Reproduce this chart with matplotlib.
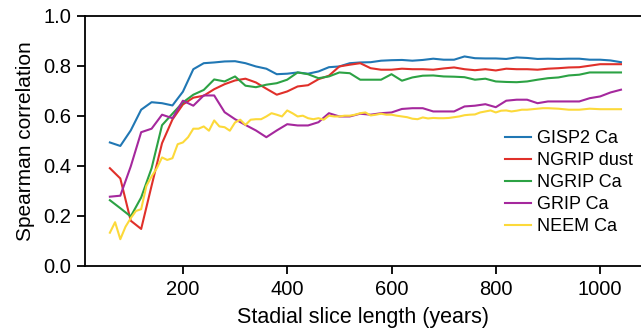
import numpy as np
import matplotlib
matplotlib.use("Agg")
import matplotlib.pyplot as plt

plt.rcParams['font.family'] = ['Liberation Sans', 'DejaVu Sans']

# slice lengths (years)
years = list(range(60, 1041, 20))
years_neem = list(range(60, 1041, 10))

gisp2_ca = [0.493, 0.479, 0.541, 0.624, 0.654, 0.650, 0.641, 0.696, 0.786, 0.810,
            0.813, 0.817, 0.818, 0.810, 0.797, 0.788, 0.766, 0.768, 0.773, 0.768,
            0.777, 0.794, 0.797, 0.810, 0.813, 0.814, 0.820, 0.822, 0.823, 0.820,
            0.823, 0.828, 0.824, 0.824, 0.837, 0.830, 0.829, 0.829, 0.827, 0.833,
            0.831, 0.827, 0.828, 0.827, 0.828, 0.828, 0.824, 0.824, 0.821, 0.814]

ngrip_dust = [0.390, 0.349, 0.180, 0.147, 0.320, 0.490, 0.585, 0.645, 0.672, 0.680,
              0.706, 0.726, 0.741, 0.748, 0.733, 0.708, 0.684, 0.697, 0.717, 0.722,
              0.746, 0.760, 0.797, 0.804, 0.810, 0.790, 0.784, 0.784, 0.788, 0.786,
              0.786, 0.784, 0.789, 0.793, 0.786, 0.782, 0.786, 0.781, 0.788, 0.786,
              0.786, 0.784, 0.788, 0.790, 0.793, 0.794, 0.800, 0.806, 0.806, 0.806]

ngrip_ca = [0.262, 0.230, 0.197, 0.273, 0.390, 0.562, 0.608, 0.653, 0.684, 0.703,
            0.745, 0.737, 0.757, 0.720, 0.714, 0.724, 0.730, 0.744, 0.773, 0.766,
            0.750, 0.757, 0.773, 0.770, 0.744, 0.744, 0.744, 0.766, 0.740, 0.753,
            0.760, 0.761, 0.757, 0.756, 0.754, 0.744, 0.748, 0.737, 0.735, 0.734,
            0.737, 0.744, 0.750, 0.753, 0.761, 0.764, 0.773, 0.773, 0.773, 0.773]

grip_ca = [0.276, 0.280, 0.397, 0.534, 0.548, 0.604, 0.590, 0.660, 0.640, 0.681,
           0.681, 0.614, 0.586, 0.563, 0.541, 0.514, 0.541, 0.566, 0.561, 0.561,
           0.574, 0.610, 0.597, 0.597, 0.608, 0.604, 0.610, 0.613, 0.627, 0.630,
           0.630, 0.617, 0.617, 0.617, 0.637, 0.640, 0.646, 0.634, 0.660, 0.664,
           0.664, 0.650, 0.657, 0.657, 0.657, 0.657, 0.670, 0.677, 0.693, 0.704]

neem_ca = [0.132, 0.174, 0.106, 0.156, 0.190, 0.219, 0.226, 0.319, 0.357, 0.390,
           0.433, 0.423, 0.430, 0.486, 0.493, 0.514, 0.548, 0.548, 0.557, 0.540,
           0.581, 0.557, 0.554, 0.540, 0.573, 0.584, 0.563, 0.584, 0.586, 0.586,
           0.597, 0.610, 0.604, 0.597, 0.621, 0.610, 0.597, 0.600, 0.590, 0.586,
           0.590, 0.584, 0.600, 0.597, 0.597, 0.600, 0.600, 0.604, 0.610, 0.613,
           0.601, 0.604, 0.608, 0.604, 0.604, 0.600, 0.597, 0.594, 0.588, 0.586,
           0.593, 0.589, 0.591, 0.590, 0.590, 0.591, 0.594, 0.597, 0.602, 0.604,
           0.605, 0.613, 0.617, 0.621, 0.613, 0.620, 0.621, 0.617, 0.620, 0.624,
           0.624, 0.626, 0.628, 0.630, 0.630, 0.629, 0.628, 0.626, 0.624, 0.624,
           0.624, 0.626, 0.628, 0.627, 0.626, 0.626, 0.626, 0.626, 0.626]

labels = ['GISP2 Ca', 'NGRIP dust', 'NGRIP Ca', 'GRIP Ca', 'NEEM Ca']
colors = ['#2077b4', '#e0302a', '#2ca244', '#a5289d', '#fcd93a']

fig = plt.figure(figsize=(6.41, 3.30), dpi=100)
ax = fig.add_axes([85 / 641, 64.3 / 330, 556 / 641, 250 / 330])

series = [(years, gisp2_ca), (years, ngrip_dust), (years, ngrip_ca),
          (years, grip_ca), (years_neem, neem_ca)]
for (x, y), lab, c in zip(series, labels, colors):
    ax.plot(x, y, color=c, lw=1.5, label=lab)

ax.set_xlim(12.3, 1078.4)
ax.set_ylim(0, 1.0)
ax.set_xticks([200, 400, 600, 800, 1000])
ax.set_yticks([0.0, 0.2, 0.4, 0.6, 0.8, 1.0])
ax.set_yticklabels(['0.0', '0.2', '0.4', '0.6', '0.8', '1.0'])
ax.spines['right'].set_visible(False)
for s in ['left', 'bottom', 'top']:
    ax.spines[s].set_linewidth(1.3)
ax.tick_params(direction='out', length=6, width=1.3, labelsize=14.5, pad=4)
ax.set_xlabel('Stadial slice length (years)', fontsize=15.5, labelpad=6)
ax.set_ylabel('Spearman correlation', fontsize=15, labelpad=6)

ax.legend(loc='upper left', bbox_to_anchor=(489 / 641, 1 - 114 / 330),
          bbox_transform=fig.transFigure, frameon=False, fontsize=13,
          handlelength=1.4, handletextpad=0.35, labelspacing=0.28)

fig.savefig('out.png', dpi=100)
